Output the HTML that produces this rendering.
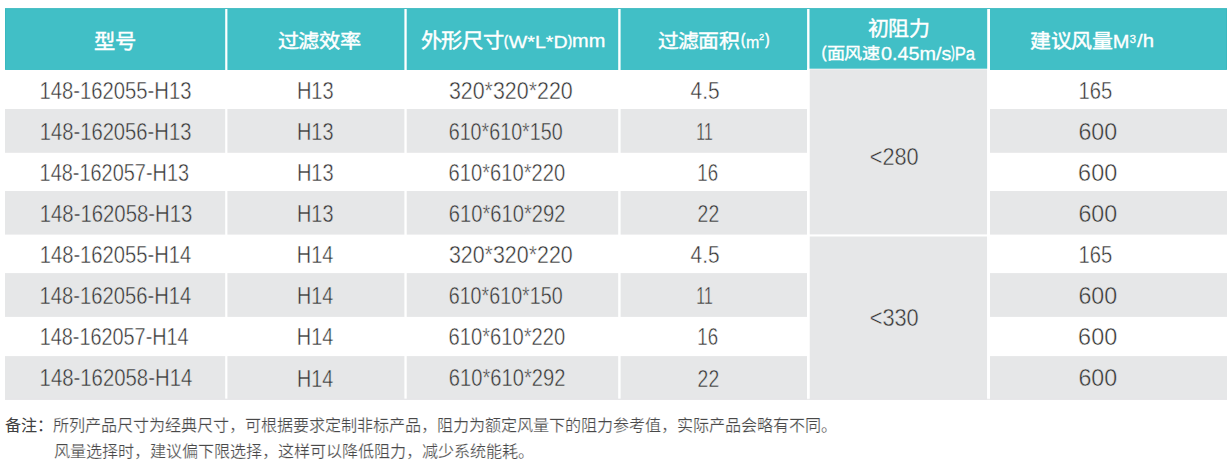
<!DOCTYPE html>
<html lang="zh-CN"><head><meta charset="utf-8"><title>table</title><style>
html,body{margin:0;padding:0;background:#fff}
body{width:1231px;height:470px;position:relative;overflow:hidden;font-family:"Liberation Sans",sans-serif}
.bg{position:absolute;left:0;top:0}
.t{position:absolute;left:0;top:0;white-space:nowrap;line-height:1;transform-origin:0 0;display:block}
.b{font-size:24.5px;color:#333}
.b i{font-style:normal;position:relative;top:-0.05em}
.w{-webkit-text-stroke:0.45px #fff}
.g{-webkit-text-stroke:0.45px #e6e7e8}
.hc{font-size:20.5px;color:#fff;font-weight:400;-webkit-text-stroke:0.45px #fff}
.hc2{font-size:17.5px;color:#fff;font-weight:400;-webkit-text-stroke:0.4px #fff}
.hl{font-size:18px;color:#fff;font-weight:400;-webkit-text-stroke:0.3px #fff}
.hl.hp{-webkit-text-stroke:0.8px #fff}
.hl.s{font-size:11px}
.n{font-size:16.1px;color:#484848;font-weight:400;-webkit-text-stroke:0.22px #fff}
.nb{color:#404040;-webkit-text-stroke:0}
</style></head>
<body>
<svg class="bg" width="1231" height="470" viewBox="0 0 1231 470"><rect x="5.00" y="8.10" width="1222.00" height="61.80" fill="#39b8bf"/><rect x="6.00" y="9.10" width="1220.00" height="60.80" fill="#41bfc6"/><rect x="5.00" y="109.00" width="802.10" height="43.80" fill="#e6e7e8"/><rect x="990.00" y="109.00" width="237.00" height="43.80" fill="#e6e7e8"/><rect x="5.00" y="191.00" width="802.10" height="43.60" fill="#e6e7e8"/><rect x="990.00" y="191.00" width="237.00" height="43.60" fill="#e6e7e8"/><rect x="5.00" y="273.10" width="802.10" height="43.80" fill="#e6e7e8"/><rect x="990.00" y="273.10" width="237.00" height="43.80" fill="#e6e7e8"/><rect x="5.00" y="356.10" width="802.10" height="43.70" fill="#e6e7e8"/><rect x="990.00" y="356.10" width="237.00" height="43.70" fill="#e6e7e8"/><rect x="807.10" y="68.70" width="182.90" height="1.50" fill="#fff"/><rect x="809.50" y="69.30" width="177.70" height="165.10" fill="#e6e7e8"/><rect x="809.50" y="236.50" width="177.70" height="163.30" fill="#e6e7e8"/><rect x="225.20" y="9.00" width="2.20" height="389.80" fill="#fff"/><rect x="404.40" y="9.00" width="2.30" height="389.80" fill="#fff"/><rect x="618.20" y="9.00" width="2.40" height="389.80" fill="#fff"/><rect x="807.10" y="9.00" width="2.40" height="389.80" fill="#fff"/><rect x="987.20" y="9.00" width="2.80" height="389.80" fill="#fff"/><rect x="5.00" y="398.80" width="1222.00" height="1.00" fill="#e6e7e8"/></svg>
<span id="a0" class="t b w" style="transform:translate(39.50px,80.25px) scale(0.8264,0.9506)">148<i>-</i>162055<i>-</i>H13</span>
<span id="b0" class="t b w" style="transform:translate(296.88px,79.96px) scale(0.8176,0.9655)">H13</span>
<span id="c0" class="t b w" style="transform:translate(448.90px,80.25px) scale(0.8738,0.9506)">320*320*220</span>
<span id="d0" class="t b w" style="transform:translate(690.55px,79.60px) scale(0.8528,0.9799)">4.5</span>
<span id="f0" class="t b w" style="transform:translate(1078.60px,80.23px) scale(0.8246,0.9513)">165</span>
<span id="a1" class="t b g" style="transform:translate(39.70px,121.11px) scale(0.8246,0.9506)">148<i>-</i>162056<i>-</i>H13</span>
<span id="b1" class="t b g" style="transform:translate(297.01px,121.11px) scale(0.8116,0.9506)">H13</span>
<span id="c1" class="t b g" style="transform:translate(448.71px,121.11px) scale(0.8037,0.9506)">610*610*150</span>
<span id="d1" class="t b g" style="transform:translate(696.26px,120.57px) scale(0.6469,0.9947)">11</span>
<span id="f1" class="t b g" style="transform:translate(1078.38px,121.11px) scale(0.9480,0.9506)">600</span>
<span id="a2" class="t b w" style="transform:translate(39.58px,161.95px) scale(0.8125,0.9506)">148<i>-</i>162057<i>-</i>H13</span>
<span id="b2" class="t b w" style="transform:translate(296.88px,161.67px) scale(0.8176,0.9655)">H13</span>
<span id="c2" class="t b w" style="transform:translate(448.60px,161.95px) scale(0.8225,0.9506)">610*610*220</span>
<span id="d2" class="t b w" style="transform:translate(697.27px,161.66px) scale(0.7614,0.9655)">16</span>
<span id="f2" class="t b w" style="transform:translate(1078.12px,161.95px) scale(0.9546,0.9506)">600</span>
<span id="a3" class="t b g" style="transform:translate(39.70px,203.06px) scale(0.8302,0.9506)">148<i>-</i>162058<i>-</i>H13</span>
<span id="b3" class="t b g" style="transform:translate(297.01px,203.06px) scale(0.8116,0.9506)">H13</span>
<span id="c3" class="t b g" style="transform:translate(448.85px,203.06px) scale(0.8220,0.9506)">610*610*292</span>
<span id="d3" class="t b g" style="transform:translate(697.62px,202.64px) scale(0.7910,0.9799)">22</span>
<span id="f3" class="t b g" style="transform:translate(1078.38px,203.06px) scale(0.9480,0.9506)">600</span>
<span id="a4" class="t b w" style="transform:translate(39.70px,243.90px) scale(0.8237,0.9506)">148<i>-</i>162055<i>-</i>H14</span>
<span id="b4" class="t b w" style="transform:translate(296.87px,243.37px) scale(0.8117,0.9947)">H14</span>
<span id="c4" class="t b w" style="transform:translate(448.90px,243.90px) scale(0.8738,0.9506)">320*320*220</span>
<span id="d4" class="t b w" style="transform:translate(690.55px,243.50px) scale(0.8528,0.9799)">4.5</span>
<span id="f4" class="t b w" style="transform:translate(1078.60px,243.89px) scale(0.8246,0.9513)">165</span>
<span id="a5" class="t b g" style="transform:translate(39.58px,285.00px) scale(0.8246,0.9506)">148<i>-</i>162056<i>-</i>H14</span>
<span id="b5" class="t b g" style="transform:translate(297.01px,284.22px) scale(0.8040,0.9947)">H14</span>
<span id="c5" class="t b g" style="transform:translate(448.71px,285.00px) scale(0.8037,0.9506)">610*610*150</span>
<span id="d5" class="t b g" style="transform:translate(696.26px,284.22px) scale(0.6469,0.9947)">11</span>
<span id="f5" class="t b g" style="transform:translate(1078.38px,285.00px) scale(0.9480,0.9506)">600</span>
<span id="a6" class="t b w" style="transform:translate(39.70px,326.05px) scale(0.8098,0.9506)">148<i>-</i>162057<i>-</i>H14</span>
<span id="b6" class="t b w" style="transform:translate(296.87px,325.52px) scale(0.8117,0.9947)">H14</span>
<span id="c6" class="t b w" style="transform:translate(448.60px,326.05px) scale(0.8225,0.9506)">610*610*220</span>
<span id="d6" class="t b w" style="transform:translate(697.27px,325.77px) scale(0.7614,0.9655)">16</span>
<span id="f6" class="t b w" style="transform:translate(1078.12px,326.05px) scale(0.9546,0.9506)">600</span>
<span id="a7" class="t b g" style="transform:translate(39.58px,367.31px) scale(0.8301,0.9506)">148<i>-</i>162058<i>-</i>H14</span>
<span id="b7" class="t b g" style="transform:translate(297.01px,366.77px) scale(0.8040,0.9947)">H14</span>
<span id="c7" class="t b g" style="transform:translate(448.85px,367.31px) scale(0.8220,0.9506)">610*610*292</span>
<span id="d7" class="t b g" style="transform:translate(697.62px,367.15px) scale(0.7910,0.9799)">22</span>
<span id="f7" class="t b g" style="transform:translate(1078.38px,367.31px) scale(0.9480,0.9506)">600</span>
<span id="e0" class="t b g" style="transform:translate(869.81px,145.81px) scale(0.8853,0.9685)">&lt;280</span>
<span id="e1" class="t b g" style="transform:translate(869.71px,307.10px) scale(0.8878,0.9506)">&lt;330</span>
<span id="h1" class="t hc" style="transform:translate(94.30px,31.48px) scale(1.0386,1.0046)">型号</span>
<span id="h2" class="t hc" style="transform:translate(277.65px,31.75px) scale(1.0350,0.9666)">过滤效率</span>
<span id="h3a" class="t hc" style="transform:translate(420.62px,31.28px) scale(1.0413,1.0012)">外形尺寸</span>
<span id="h3p1" class="t hl hp" style="transform:translate(504.04px,32.66px) scale(0.6737,0.8628)">(</span>
<span id="h3l" class="t hl" style="transform:translate(508.86px,33.79px) scale(1.0879,0.9188)">W*L*D</span>
<span id="h3p2" class="t hl hp" style="transform:translate(567.92px,32.66px) scale(0.6737,0.8628)">)</span>
<span id="h3m" class="t hl" style="transform:translate(572.02px,32.45px) scale(1.1088,1.0000)">mm</span>
<span id="h4a" class="t hc" style="transform:translate(657.69px,31.95px) scale(1.0162,0.9662)">过滤面积</span>
<span id="h4p1" class="t hl hp" style="transform:translate(741.09px,31.51px) scale(0.7064,0.9133)">(</span>
<span id="h4m" class="t hl" style="transform:translate(745.96px,33.25px) scale(0.8890,0.9611)">m</span>
<span id="h4s" class="t hl s" style="transform:translate(759.12px,32.19px) scale(0.8309,0.8842)">2</span>
<span id="h4p2" class="t hl hp" style="transform:translate(765.32px,31.51px) scale(0.7014,0.9133)">)</span>
<span id="h5a" class="t hc" style="transform:translate(867.75px,18.95px) scale(1.0219,0.9765)">初阻力</span>
<span id="h5p1" class="t hl hp" style="transform:translate(821.73px,43.44px) scale(0.7399,0.9444)">(</span>
<span id="h5c" class="t hc2" style="transform:translate(826.57px,46.19px) scale(1.0369,0.9153)">面风速</span>
<span id="h5l" class="t hl" style="transform:translate(880.99px,44.79px) scale(1.1000,0.9972)">0.45m/s</span>
<span id="h5p2" class="t hl hp" style="transform:translate(951.41px,43.44px) scale(0.4965,0.9444)">)</span>
<span id="h5pa" class="t hl" style="transform:translate(954.69px,43.89px) scale(0.9218,1.0563)">Pa</span>
<span id="h6a" class="t hc" style="transform:translate(1030.38px,31.95px) scale(1.0225,0.9662)">建议风量</span>
<span id="h6M" class="t hl" style="transform:translate(1112.65px,31.83px) scale(1.1112,1.0477)">M</span>
<span id="h6s" class="t hl s" style="transform:translate(1129.74px,33.97px) scale(1.0216,1.0276)">3</span>
<span id="h6h" class="t hl" style="transform:translate(1137.11px,31.70px) scale(1.1279,1.0520)">/h</span>
<span id="n0" class="t n nb" style="transform:translate(5.28px,417.30px) scale(1.0000,1.0000)">备注：</span>
<span id="n1" class="t n" style="transform:translate(53.40px,417.40px) scale(1.0000,1.0000)">所列产品尺寸为经典尺寸，可根据要求定制非标产品，阻力为额定风量下的阻力参考值，实际产品会略有不同。</span>
<span id="n2" class="t n" style="transform:translate(54.18px,442.80px) scale(1.0000,1.0000)">风量选择时，建议偏下限选择，这样可以降低阻力，减少系统能耗。</span>
</body></html>
